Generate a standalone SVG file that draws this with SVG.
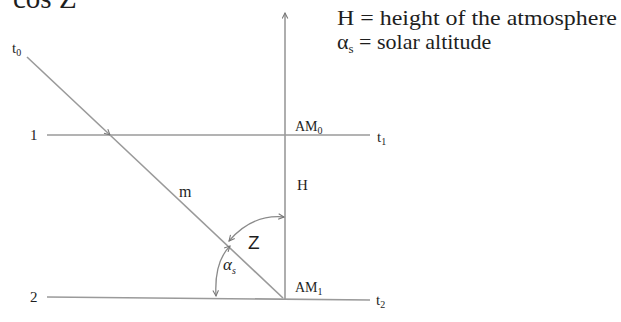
<svg xmlns="http://www.w3.org/2000/svg" width="621" height="322" viewBox="0 0 621 322">
<defs>
<style>
.ln{stroke:#9a9a9a;stroke-width:1.6;fill:none}
.arc{stroke:#8a8a8a;stroke-width:1.3;fill:none}
.t{font-family:"Liberation Serif","Times New Roman",serif;fill:#1e1e1e}
.s{font-family:"Liberation Sans",Arial,sans-serif;fill:#1e1e1e}
</style>
<marker id="ah" viewBox="0 0 10 10" refX="9" refY="5" markerWidth="7" markerHeight="7" orient="auto-start-reverse" markerUnits="userSpaceOnUse">
<path d="M1,1 L9,5 L1,9" fill="none" stroke="#777" stroke-width="1.5"/>
</marker>
</defs>
<rect width="621" height="322" fill="#fff"/>
<text class="t" x="13" y="8" font-size="29">cos Z</text>
<g id="legend">
<text class="t" x="337" y="25" font-size="22" textLength="280" lengthAdjust="spacingAndGlyphs">H = height of the atmosphere</text>
<text class="t" x="337" y="49" font-size="22">α<tspan font-size="13" dy="4">s</tspan><tspan dy="-4"> = solar altitude</tspan></text>
</g>
<g id="connectors">
<line id="line1" class="ln" x1="47" y1="135" x2="370" y2="135"/>
<line id="line2" class="ln" x1="47" y1="297" x2="370" y2="300"/>
<line id="vertical" class="ln" x1="285" y1="299" x2="285" y2="13" marker-end="url(#ah)"/>
<line id="ray" class="ln" x1="27" y1="57" x2="110" y2="135" marker-end="url(#ah)"/>
<line id="ray2" class="ln" x1="110" y1="135" x2="283" y2="298"/>
<path id="arcZ" class="arc" d="M284,217 Q252,214 229,241" marker-start="url(#ah)" marker-end="url(#ah)"/>
<path id="arcAlpha" class="arc" d="M230,246 Q214,262 216,296" marker-start="url(#ah)" marker-end="url(#ah)"/>
</g>
<g id="labels">
<text class="t" x="12" y="53" font-size="15">t<tspan font-size="10" dy="3">0</tspan></text>
<text class="t" x="30" y="140" font-size="15">1</text>
<text class="t" x="30" y="302" font-size="15">2</text>
<text class="t" x="377" y="142" font-size="15">t<tspan font-size="10" dy="3">1</tspan></text>
<text class="t" x="376" y="305" font-size="15">t<tspan font-size="10" dy="3">2</tspan></text>
<text class="t" x="295" y="131" font-size="14">AM<tspan font-size="10" dy="3">0</tspan></text>
<text class="t" x="295" y="292" font-size="14">AM<tspan font-size="10" dy="3">1</tspan></text>
<text class="t" x="297" y="190" font-size="15">H</text>
<text class="t" x="179" y="197" font-size="16">m</text>
<text class="s" x="248" y="249" font-size="19">Z</text>
<text class="t" x="223" y="270" font-size="17" font-style="italic">α<tspan font-size="10" dy="4">s</tspan></text>
</g>
</svg>
